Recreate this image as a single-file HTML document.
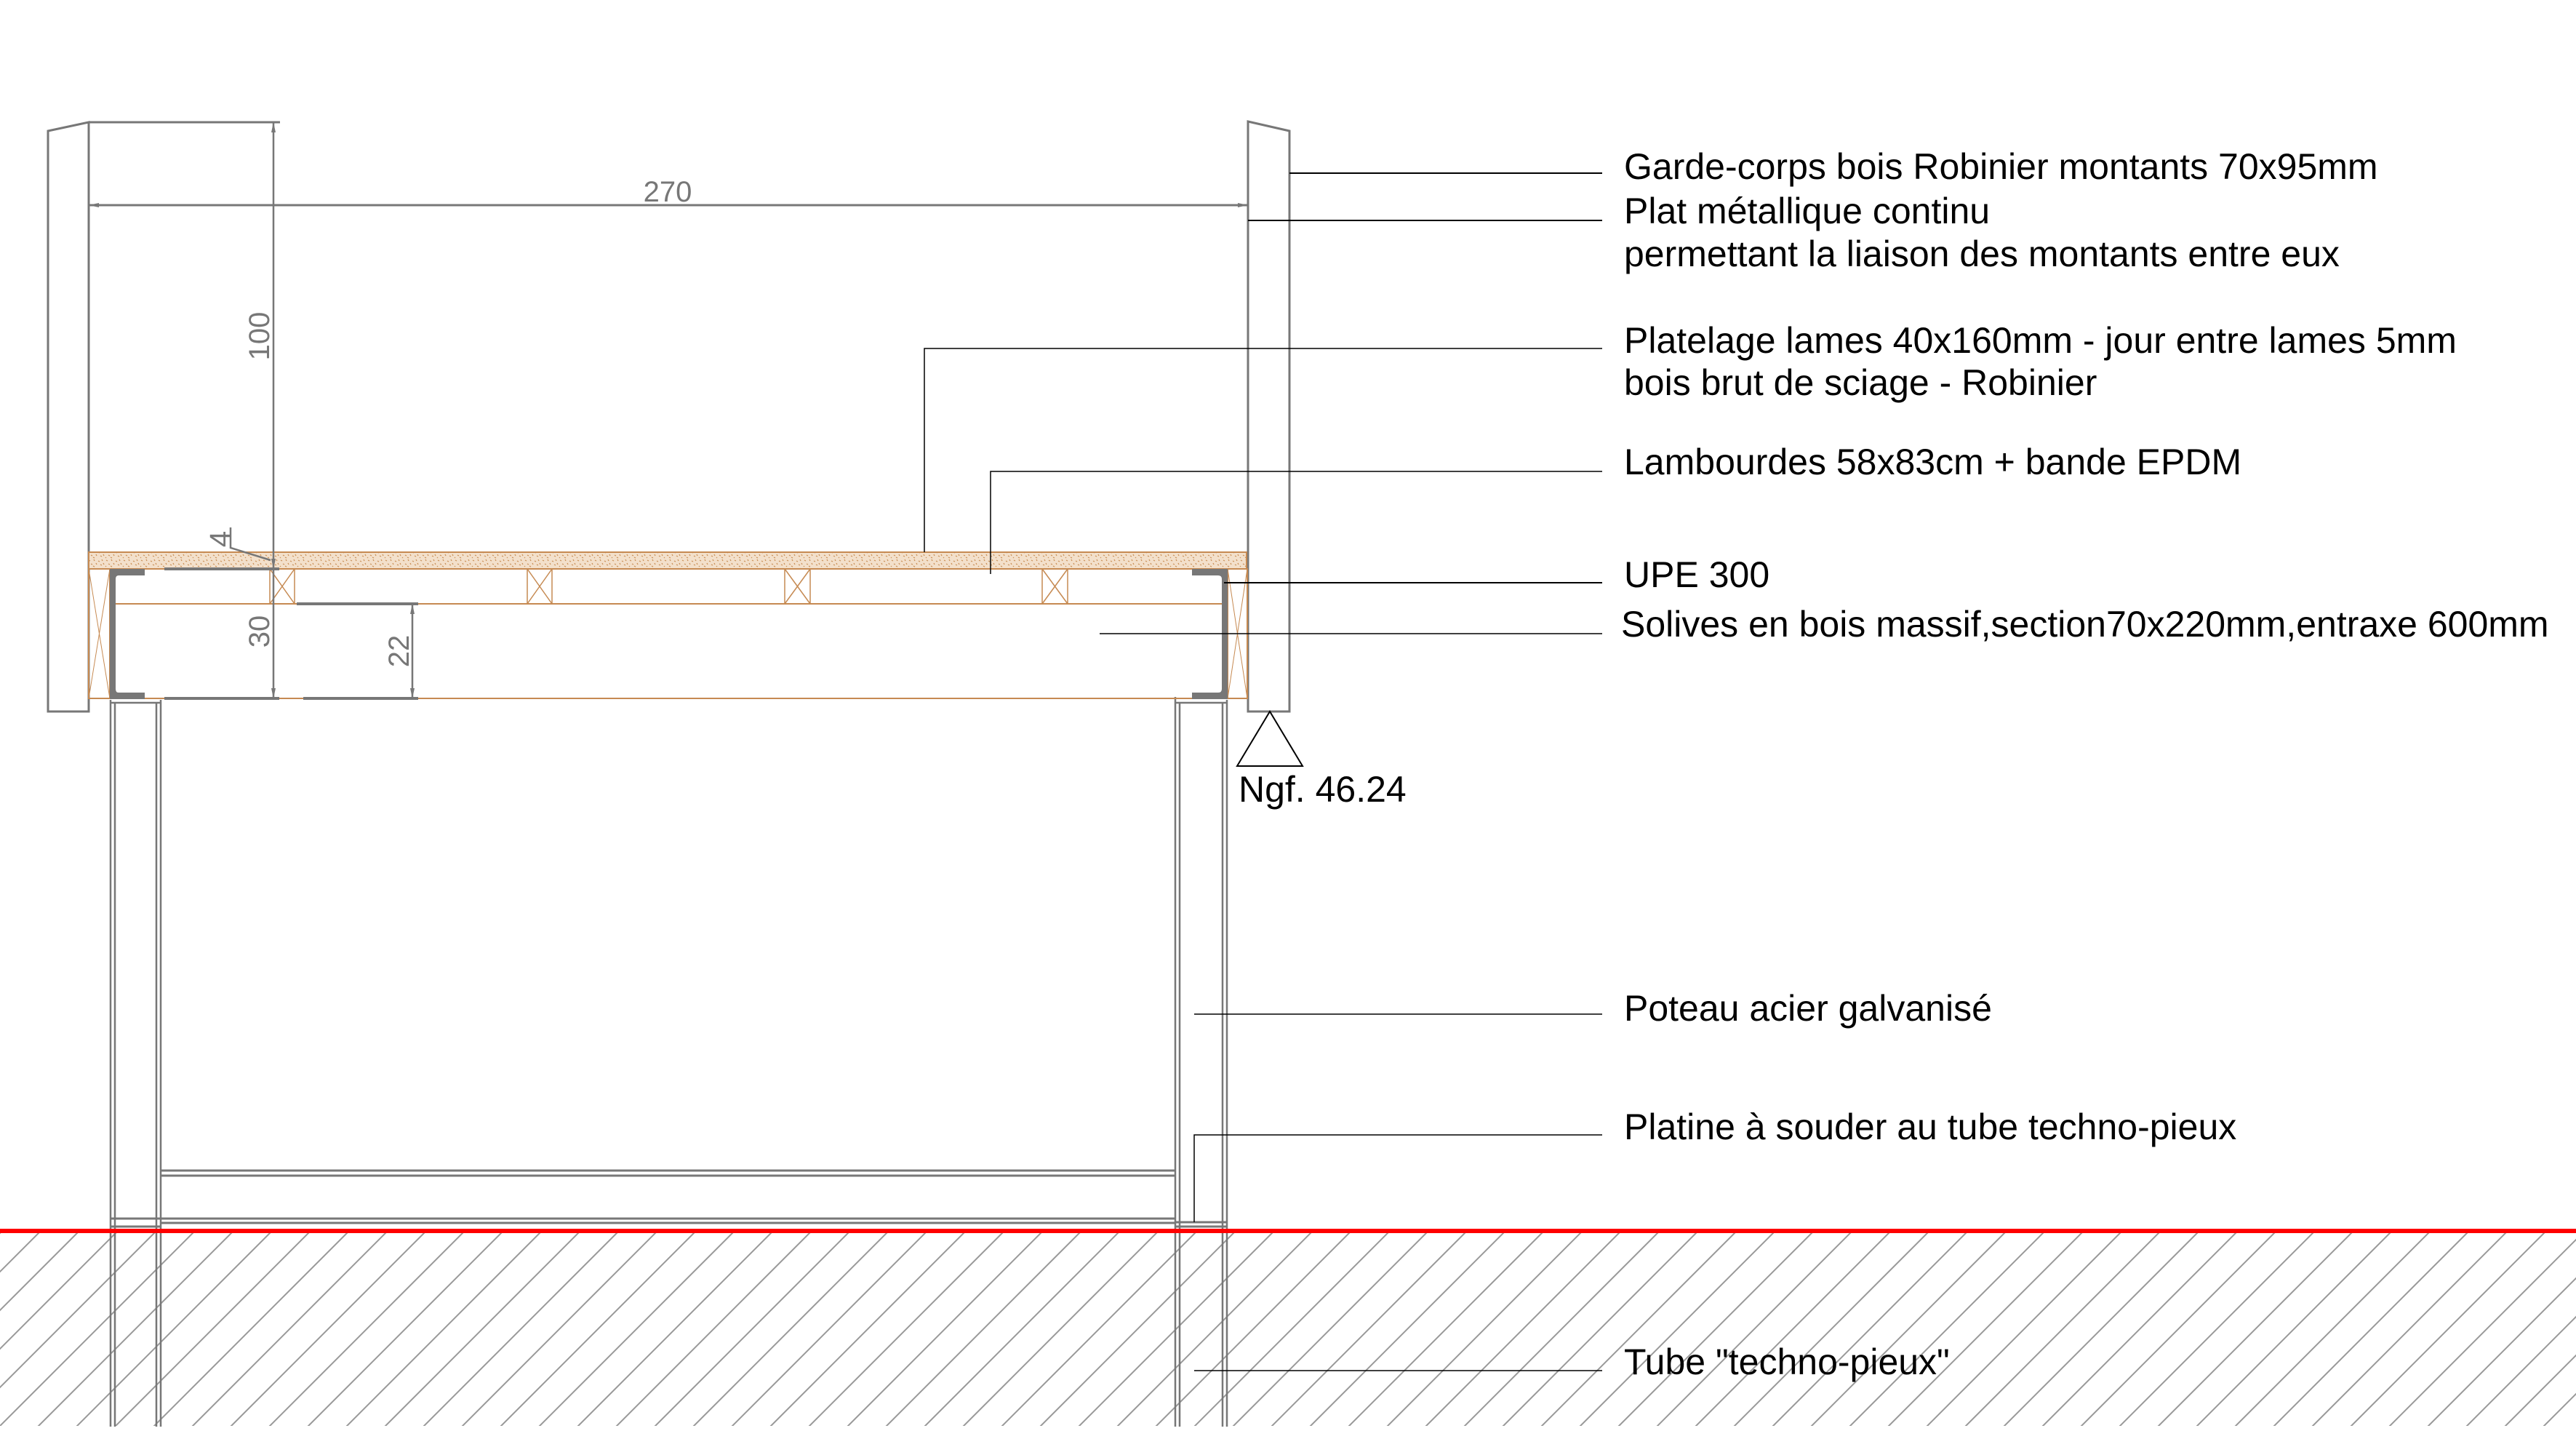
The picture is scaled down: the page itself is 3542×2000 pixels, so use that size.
<!DOCTYPE html>
<html><head><meta charset="utf-8"><style>
html,body{margin:0;padding:0;background:#fff;}
svg{display:block;}
text{font-family:"Liberation Sans",Arial,sans-serif;}
</style></head><body>
<svg width="3542" height="2000" viewBox="0 0 3542 2000" xmlns="http://www.w3.org/2000/svg">
<defs>
<pattern id="wood" width="24" height="12" patternUnits="userSpaceOnUse">
<rect width="24" height="12" fill="#f3e0cb"/>
<path d="M2 2l2 1M9 1l1 2M15 3l2 1M20 1l1 2M5 7l2 1M12 6l1 2M18 8l2 1M1 10l1 1M8 10l2 1M22 6l1 2" stroke="#c98f55" stroke-width="1.2"/>
</pattern>
<clipPath id="hc"><rect x="0" y="1694" width="3542" height="266"/></clipPath>
</defs>

<!-- hatch -->
<g clip-path="url(#hc)" stroke="#999" stroke-width="2">
<path d="M3 1692 l-300 300 M56 1692 l-300 300 M109 1692 l-300 300 M162 1692 l-300 300 M215 1692 l-300 300 M268 1692 l-300 300 M321 1692 l-300 300 M374 1692 l-300 300 M427 1692 l-300 300 M480 1692 l-300 300 M533 1692 l-300 300 M586 1692 l-300 300 M639 1692 l-300 300 M692 1692 l-300 300 M745 1692 l-300 300 M798 1692 l-300 300 M851 1692 l-300 300 M904 1692 l-300 300 M957 1692 l-300 300 M1010 1692 l-300 300 M1063 1692 l-300 300 M1116 1692 l-300 300 M1169 1692 l-300 300 M1222 1692 l-300 300 M1275 1692 l-300 300 M1328 1692 l-300 300 M1381 1692 l-300 300 M1434 1692 l-300 300 M1487 1692 l-300 300 M1540 1692 l-300 300 M1593 1692 l-300 300 M1646 1692 l-300 300 M1699 1692 l-300 300 M1752 1692 l-300 300 M1805 1692 l-300 300 M1858 1692 l-300 300 M1911 1692 l-300 300 M1964 1692 l-300 300 M2017 1692 l-300 300 M2070 1692 l-300 300 M2123 1692 l-300 300 M2176 1692 l-300 300 M2229 1692 l-300 300 M2282 1692 l-300 300 M2335 1692 l-300 300 M2388 1692 l-300 300 M2441 1692 l-300 300 M2494 1692 l-300 300 M2547 1692 l-300 300 M2600 1692 l-300 300 M2653 1692 l-300 300 M2706 1692 l-300 300 M2759 1692 l-300 300 M2812 1692 l-300 300 M2865 1692 l-300 300 M2918 1692 l-300 300 M2971 1692 l-300 300 M3024 1692 l-300 300 M3077 1692 l-300 300 M3130 1692 l-300 300 M3183 1692 l-300 300 M3236 1692 l-300 300 M3289 1692 l-300 300 M3342 1692 l-300 300 M3395 1692 l-300 300 M3448 1692 l-300 300 M3501 1692 l-300 300 M3554 1692 l-300 300 M3607 1692 l-300 300 M3660 1692 l-300 300 M3713 1692 l-300 300 M3766 1692 l-300 300 M3819 1692 l-300 300"/>
</g>

<!-- steel posts -->
<g stroke="#777" stroke-width="2.5" fill="none">
<path d="M152 962V1961M158 966V1961M215 966V1961M221 962V1961M152 966H221"/>
<path d="M1616 958V1961M1622 966V1961M1681 966V1961M1687 962V1961M1616 966H1687"/>
<path d="M221 1609H1616M221 1616H1616" stroke-width="3"/>
<path d="M152 1675H1616M221 1681H1616" stroke-width="3"/>
<path d="M152 1686H221M1616 1680H1687M1616 1686H1687" stroke-width="3"/>
</g>

<!-- red ground line -->
<rect x="0" y="1689" width="3542" height="6" fill="#ff0000"/>

<!-- guardrail posts -->
<g stroke="#777" stroke-width="3" fill="none">
<path d="M66 180L122 168V978H66Z"/>
<path d="M1716 167L1773 180V978H1716Z"/>
</g>

<!-- planks -->
<rect x="122" y="759" width="1592" height="23" fill="url(#wood)" stroke="#c68a52" stroke-width="2"/>

<!-- joist lines -->
<g stroke="#c68a52" stroke-width="2" fill="none">
<path d="M122 782H1715M157 830H1683M122 960H1715"/>
<rect x="122" y="782" width="29" height="178"/>
<path d="M122 782L151 960M151 782L122 960" stroke-width="1"/>
<rect x="1688" y="782" width="27" height="178"/>
<path d="M1688 782L1715 960M1715 782L1688 960" stroke-width="1"/>
<g stroke-width="1.5">
<rect x="371" y="782" width="34" height="48"/><path d="M371 782L405 830M405 782L371 830"/>
<rect x="725" y="782" width="34" height="48"/><path d="M725 782L759 830M759 782L725 830"/>
<rect x="1079" y="782" width="35" height="48"/><path d="M1079 782L1114 830M1114 782L1079 830"/>
<rect x="1433" y="782" width="35" height="48"/><path d="M1433 782L1468 830M1468 782L1433 830"/>
</g>
</g>

<!-- UPE -->
<path d="M151 782H199V791H163Q159 791 159 796V947Q159 952 163 952H199V961H151Z" fill="#777"/>
<path d="M1688 782H1639V791H1675Q1680 791 1680 796V947Q1680 952 1675 952H1639V961H1688Z" fill="#777"/>

<!-- dimensions -->
<g stroke="#777" fill="none">
<path d="M122 168H385" stroke-width="3"/>
<path d="M376 168V960" stroke-width="2.5"/>
<path d="M122 282H1716" stroke-width="3"/>
<path d="M122 284V318M1716 284V318" stroke-width="2.5"/>
<path d="M226 782H384M226 960H384M417 960H575M408 830H575" stroke-width="4"/>
<path d="M567 830V960" stroke-width="2.5"/>
<path d="M317 725V753L372 770" stroke-width="2.5"/>
</g>
<g fill="#777">
<path d="M376 168l-3 14h6z"/>
<path d="M122 282l14-3v6z M1716 282l-14-3v6z"/>
<path d="M567 830l-3 14h6z M567 960l-3-14h6z"/>
<path d="M376 782l-3-14h6z M376 960l-3-14h6z"/>
</g>
<g fill="#777" font-size="40">
<text x="918" y="277" text-anchor="middle">270</text>
<text transform="translate(370 462) rotate(-90)" text-anchor="middle">100</text>
<text transform="translate(370 868) rotate(-90)" text-anchor="middle">30</text>
<text transform="translate(562 895) rotate(-90)" text-anchor="middle">22</text>
<text transform="translate(316 741) rotate(-90)" text-anchor="middle">4</text>
</g>

<!-- level triangle -->
<path d="M1746 978L1701 1053H1791Z" fill="none" stroke="#000" stroke-width="2"/>

<!-- leaders -->
<g stroke="#000" stroke-width="2" fill="none">
<path d="M1773 238H2203"/>
<path d="M1716 303H2203"/>
<path d="M1271 759V479H2203" stroke-width="1.5"/>
<path d="M1362 789V648H2203" stroke-width="1.5"/>
<path d="M1683 801H2203"/>
<path d="M1512 871H2203" stroke-width="1.5"/>
<path d="M1642 1394H2203" stroke-width="1.5"/>
<path d="M1642 1680V1560H2203" stroke-width="1.5"/>
<path d="M1642 1884H2203" stroke-width="1.5"/>
</g>

<!-- labels -->
<g fill="#000" font-size="50">
<text x="2233" y="246">Garde-corps bois Robinier montants 70x95mm</text>
<text x="2233" y="307">Plat métallique continu</text>
<text x="2233" y="366">permettant la liaison des montants entre eux</text>
<text x="2233" y="485">Platelage lames 40x160mm - jour entre lames 5mm</text>
<text x="2233" y="543">bois brut de sciage - Robinier</text>
<text x="2233" y="652">Lambourdes 58x83cm + bande EPDM</text>
<text x="2233" y="807">UPE 300</text>
<text x="2229" y="875">Solives en bois massif,section70x220mm,entraxe 600mm</text>
<text x="1703" y="1102">Ngf. 46.24</text>
<text x="2233" y="1403">Poteau acier galvanisé</text>
<text x="2233" y="1566">Platine à souder au tube techno-pieux</text>
<text x="2233" y="1889">Tube "techno-pieux"</text>
</g>
</svg>
</body></html>
